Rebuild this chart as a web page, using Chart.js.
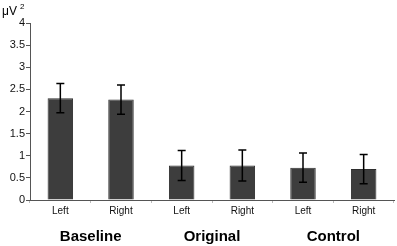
<!DOCTYPE html>
<html>
<head>
<meta charset="utf-8">
<script src="https://cdn.jsdelivr.net/npm/chart.js@4/dist/chart.umd.min.js"></script>
<style>
  html, body { margin: 0; padding: 0; background: #fff; }
  #wrap { width: 397px; height: 246px; }
</style>
</head>
<body>
<div id="wrap"><canvas id="chart"></canvas></div>
<script>
// data
const sides = ["Left", "Right", "Left", "Right", "Left", "Right"];
const groups = ["Baseline", "Original", "Control"];
const means = [2.30, 2.27, 0.78, 0.78, 0.73, 0.70];
const errors = [0.33, 0.33, 0.34, 0.35, 0.33, 0.33];
const yTicks = [0, 0.5, 1, 1.5, 2, 2.5, 3, 3.5, 4];

const font = "'Liberation Sans', Arial, sans-serif";

// error bars drawn from the scales
const errorBars = {
    id: "errorBars",
    afterDatasetsDraw(chart) {
        const ctx = chart.ctx;
        const x = chart.scales.x, y = chart.scales.y;
        ctx.save();
        ctx.strokeStyle = "#000";
        ctx.lineWidth = 1.5;
        means.forEach((m, i) => {
            const px = x.getPixelForValue(i);
            const top = y.getPixelForValue(m + errors[i]);
            const bot = y.getPixelForValue(m - errors[i]);
            ctx.beginPath();
            ctx.moveTo(px, top); ctx.lineTo(px, bot);
            ctx.moveTo(px - 4, top); ctx.lineTo(px + 4, top);
            ctx.moveTo(px - 4, bot); ctx.lineTo(px + 4, bot);
            ctx.stroke();
        });
        ctx.restore();
    }
};

// group names under each pair and the unit label
const groupLabels = {
    id: "groupLabels",
    afterDraw(chart) {
        const ctx = chart.ctx;
        const x = chart.scales.x;
        ctx.save();
        ctx.fillStyle = "#000";
        ctx.font = "bold 15px " + font;
        ctx.textAlign = "center";
        ctx.textBaseline = "middle";
        groups.forEach((g, i) => {
            const px = (x.getPixelForValue(i * 2) + x.getPixelForValue(i * 2 + 1)) / 2;
            ctx.fillText(g, px, 237);
        });
        ctx.textAlign = "left";
        ctx.font = "12px " + font;
        ctx.fillText("\u03BCV", 2, 12);
        ctx.font = "8px " + font;
        ctx.fillText("2", 20, 7);
        ctx.restore();
    }
};

new Chart(document.getElementById("chart"), {
    type: "bar",
    data: {
        labels: sides,
        datasets: [{
            data: means,
            backgroundColor: "#3d3d3d",
            borderColor: "#2e2e2e",
            borderWidth: 1,
            barPercentage: 0.84,
            categoryPercentage: 0.5
        }]
    },
    options: {
        responsive: true,
        maintainAspectRatio: false,
        animation: false,
        layout: { padding: { top: 23, right: 3, left: 0, bottom: 0 } },
        plugins: { legend: { display: false }, tooltip: { enabled: false } },
        scales: {
            x: {
                grid: { drawOnChartArea: false, tickLength: 3, color: "#bbb" },
                border: { color: "#555" },
                ticks: { color: "#111", font: { size: 10, family: font }, padding: 2 },
                afterFit(s) { s.height = 46; }
            },
            y: {
                min: 0, max: 4,
                afterBuildTicks(s) { s.ticks = yTicks.map(v => ({ value: v })); },
                grid: { drawOnChartArea: false, tickLength: 4, color: "#555" },
                border: { color: "#555" },
                ticks: {
                    color: "#111", font: { size: 11, family: font }, padding: 1,
                    callback: v => String(v)
                },
                afterFit(s) { s.width = 30; }
            }
        }
    },
    plugins: [errorBars, groupLabels]
});
</script>
</body>
</html>
